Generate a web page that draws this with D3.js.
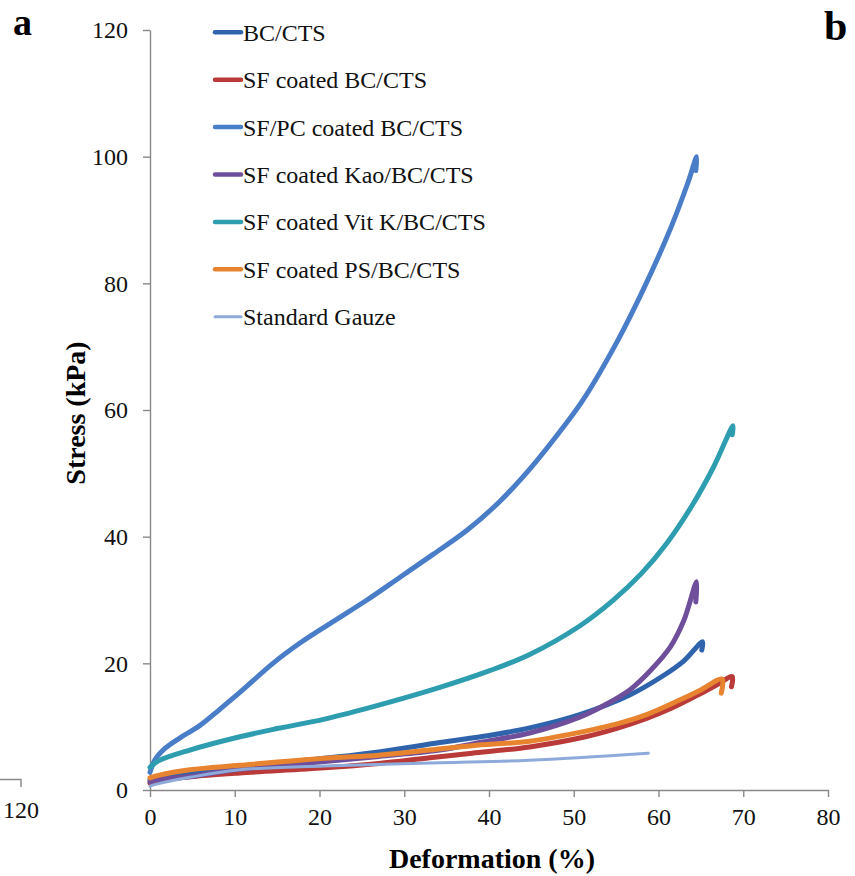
<!DOCTYPE html>
<html>
<head>
<meta charset="utf-8">
<script src="https://cdn.jsdelivr.net/npm/d3@7"></script>
<style>
  body { margin: 0; background: #fff; }
  svg { display: block; font-family: "Liberation Serif", "Times New Roman", serif; }
</style>
</head>
<body>
<svg id="chart" width="855" height="876"></svg>
<script>
// series names, in legend order
const seriesNames = [
  'BC/CTS',
  'SF coated BC/CTS',
  'SF/PC coated BC/CTS',
  'SF coated Kao/BC/CTS',
  'SF coated Vit K/BC/CTS',
  'SF coated PS/BC/CTS',
  'Standard Gauze'
];

// deformation (%) / stress (kPa) per series
const bcX = [0, 1, 4.7, 10.6, 20.6, 27, 34.2, 40, 44.8, 50.7, 56.6, 60.5, 63, 65.2, 65.1];
const bcY = [1.6, 1.9, 2.6, 3.6, 5, 6, 7.5, 8.6, 9.8, 11.9, 15.0, 18.0, 20.4, 23.4, 22.1];

const sfX = [0, 1, 4.7, 10.6, 20.6, 27, 33, 38, 44.8, 50.7, 55, 58.6, 61.5, 64.5, 67, 68.7, 68.6];
const sfY = [1.1, 1.5, 2.1, 2.7, 3.5, 4.2, 5.1, 5.8, 6.8, 8.2, 9.7, 11.3, 12.9, 14.9, 16.7, 17.9, 16.3];

const sfpcX = [0, 0.6, 1.8, 3.5, 5.9, 8.2, 10.6, 14.5, 17.7, 21.5, 25.6, 29.5, 33.4, 37.4, 41.3, 44.5, 47.2, 51.1, 55.2, 58.2, 61.4, 63.5, 64.5, 64.4];
const sfpcY = [2.8, 4.8, 6.6, 8.2, 10.2, 12.7, 15.4, 20, 23.2, 26.5, 30, 33.6, 37.2, 41.0, 45.6, 50.2, 54.6, 61.6, 71.0, 79.0, 88.6, 96.0, 100, 97.8];

const kaoX = [0, 1, 4.7, 10.6, 20.6, 27, 34.2, 38.9, 44.8, 50.7, 53.5, 56.6, 59, 61.4, 63, 64.5, 64.4];
const kaoY = [1.3, 1.6, 2.1, 3.3, 4.5, 5.3, 6.3, 7.5, 9, 11.5, 13.3, 15.8, 18.8, 22.6, 26.8, 32.9, 29.7];

const vitkX = [0, 1, 4.7, 10.6, 15, 20.6, 27, 34.2, 40, 44.8, 50.7, 54.6, 58, 61, 64, 66.5, 68.8, 68.7];
const vitkY = [3.6, 4.6, 6.3, 8.4, 9.7, 11.2, 13.4, 16.2, 18.8, 21.4, 25.9, 29.9, 34.2, 39.0, 45.0, 51.0, 57.5, 56.1];

const psX = [0, 1, 4.7, 10.6, 20.6, 27, 33, 38, 44.8, 50.7, 55, 58.6, 62.5, 65, 67.5, 67.4];
const psY = [1.9, 2.3, 3.2, 3.9, 5, 5.5, 6.3, 7.0, 7.7, 9.1, 10.4, 11.9, 14.2, 15.8, 17.5, 15.3];

const gauzeX = [0, 1, 4.7, 10.6, 20.6, 34.2, 44.8, 58.8];
const gauzeY = [0.6, 1, 2, 3.2, 3.8, 4.3, 4.7, 5.8];

const xTicks = [0, 10, 20, 30, 40, 50, 60, 70, 80];
const yTicks = [0, 20, 40, 60, 80, 100, 120];

const colors = ['#2f64ad', '#b93a38', '#4a7dc8', '#6f4f9b', '#2e9db0', '#e8842f', '#8eaadb'];
const widths = [5, 5, 5, 5, 5, 5, 3];

const allX = [bcX, sfX, sfpcX, kaoX, vitkX, psX, gauzeX];
const allY = [bcY, sfY, sfpcY, kaoY, vitkY, psY, gauzeY];

const series = seriesNames.map((name, i) => ({
  name,
  color: colors[i],
  width: widths[i],
  points: allX[i].map((x, j) => ({ x, y: allY[i][j] }))
}));

const width = 855;
const height = 876;
const margin = { top: 30, right: 27, bottom: 86, left: 150 };
const axisColor = '#888';

const svg = d3.select('#chart');

const xScale = d3.scaleLinear()
  .domain([0, 80])
  .range([margin.left, width - margin.right]);

const yScale = d3.scaleLinear()
  .domain([0, 120])
  .range([height - margin.bottom, margin.top]);

// axes
const xAxis = svg.append('g')
  .attr('transform', `translate(0, ${height - margin.bottom})`)
  .call(d3.axisBottom(xScale)
    .tickValues(xTicks)
    .tickSize(7)
    .tickSizeOuter(0)
    .tickPadding(11));

const yAxis = svg.append('g')
  .attr('transform', `translate(${margin.left}, 0)`)
  .call(d3.axisLeft(yScale)
    .tickValues(yTicks)
    .tickSize(7)
    .tickSizeOuter(0)
    .tickPadding(15));

[xAxis, yAxis].forEach(ax => {
  ax.select('.domain').attr('stroke', axisColor).attr('stroke-width', 1.4);
  ax.selectAll('.tick line').attr('stroke', axisColor).attr('stroke-width', 1.4);
  ax.selectAll('.tick text')
    .attr('fill', '#111')
    .style('font-family', '"Liberation Serif", serif')
    .style('font-size', '24px');
});

// curves
const line = d3.line()
  .x(d => xScale(d.x))
  .y(d => yScale(d.y))
  .curve(d3.curveCatmullRom.alpha(0.5));

svg.append('g')
  .selectAll('path')
  .data(series)
  .enter()
  .append('path')
  .attr('d', d => line(d.points))
  .attr('fill', 'none')
  .attr('stroke', d => d.color)
  .attr('stroke-width', d => d.width)
  .attr('stroke-linecap', 'round')
  .attr('stroke-linejoin', 'round');

// legend
const legend = svg.append('g')
  .selectAll('g')
  .data(series)
  .enter()
  .append('g')
  .attr('transform', (d, i) => `translate(215, ${32.3 + i * 47.4})`);

legend.append('line')
  .attr('x1', 0)
  .attr('x2', 26)
  .attr('stroke', d => d.color)
  .attr('stroke-width', d => d.width === 3 ? 3 : 4.5)
  .attr('stroke-linecap', 'round');

legend.append('text')
  .attr('x', 28)
  .attr('dy', '0.35em')
  .style('font-size', '24px')
  .attr('fill', '#111')
  .text(d => d.name);

// axis titles
svg.append('text')
  .attr('x', 492)
  .attr('y', 868)
  .attr('text-anchor', 'middle')
  .style('font-size', '28px')
  .style('font-weight', 'bold')
  .text('Deformation (%)');

svg.append('text')
  .attr('transform', 'translate(75, 413) rotate(-90)')
  .attr('text-anchor', 'middle')
  .attr('dy', '0.35em')
  .style('font-size', '28px')
  .style('font-weight', 'bold')
  .text('Stress (kPa)');

// panel letters
svg.append('text')
  .attr('x', 13)
  .attr('y', 35)
  .style('font-size', '38px')
  .style('font-weight', 'bold')
  .text('a');

svg.append('text')
  .attr('x', 824)
  .attr('y', 40)
  .style('font-size', '42px')
  .style('font-weight', 'bold')
  .text('b');

// edge of the neighbouring panel, bottom left
svg.append('path')
  .attr('d', 'M0,779.5H21V787')
  .attr('fill', 'none')
  .attr('stroke', axisColor)
  .attr('stroke-width', 1.4);

svg.append('text')
  .attr('x', 21)
  .attr('y', 818)
  .attr('text-anchor', 'middle')
  .style('font-size', '24px')
  .attr('fill', '#111')
  .text('120');
</script>
</body>
</html>
